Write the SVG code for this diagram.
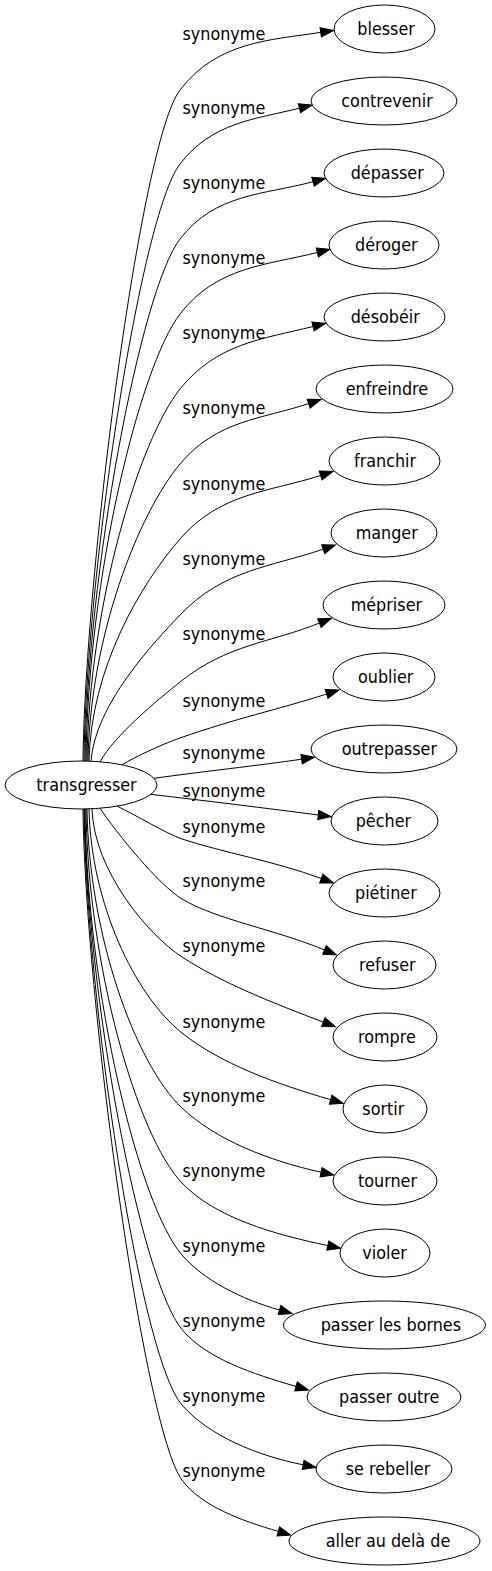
<svg xmlns="http://www.w3.org/2000/svg" width="492" height="1571" viewBox="0 0 492 1571">
<style>
text{font-family:"DejaVu Sans Condensed","DejaVu Sans",sans-serif;font-stretch:condensed;font-size:17.8px;fill:#000}
.n ellipse{fill:none;stroke:#000;stroke-width:1}
#edges path{fill:none;stroke:#000;stroke-width:1;marker-end:url(#ah)}
</style>
<defs>
<marker id="ah" markerUnits="userSpaceOnUse" markerWidth="14" markerHeight="10" viewBox="0 0 14 10" refX="0" refY="5" orient="auto" overflow="visible"><path d="M0,0.3 L13,5 L0,9.7 Z" fill="#000" stroke="#000" stroke-width="1"/></marker>
</defs>
<rect width="492" height="1571" fill="#fff"/>
<g id="edges">
<path d="M83,761 C85,576 140.3,141.5 180,90 C217.1,41.8 268.1,40.3 320.7,32.4"/>
<path d="M84,761 C86,576 140.3,215.5 180,164 C212.1,122.2 254.7,119.4 299.4,108.2"/>
<path d="M85,761 C87,576 140.3,290.5 180,239 C215.3,193.1 264.1,194.9 313,181.7"/>
<path d="M86,761 C88,576 140.3,365.5 180,314 C216.7,266.3 266.3,265.3 317.3,252.5"/>
<path d="M87,761 C89,604.8 139.4,439.8 180,389 C216.8,343.1 263,339 313,326.5"/>
<path d="M88,761 C90,636.3 138.4,513.9 180,464 C216.4,420.3 261.4,419.2 308.7,403.6"/>
<path d="M89,761 C91,667.8 140.7,584.2 180,539 C220.5,492.4 269.2,492 320.6,475.5"/>
<path d="M91,761.2 C95,705 152.8,643.5 180,615 C223.5,569.4 270.9,567 323.2,549.2"/>
<path d="M100,761.8 C115,735 156.6,700.8 180,682 C227.3,644.2 270.2,642.8 319.4,623.1"/>
<path d="M122,764.8 C135,757 161.1,744.6 180,738 C237.8,717.8 275.6,710.3 326.6,694"/>
<path d="M154,778.3 C199,772 262,765.1 301.6,759.2"/>
<path d="M151,794.4 C200,800 270.7,808.8 318.3,815"/>
<path d="M117,806.1 C135,814.5 166.8,834 182,839 C223.2,852.6 273.7,860.9 321.3,878.5"/>
<path d="M100,808.2 C116.5,833.1 158.9,885.1 182,899 C216.3,919.6 275.6,929.5 324.5,950"/>
<path d="M92,808.9 C94,871.1 148.5,935.2 182,957 C221.1,982.5 272.3,1002.8 323.3,1022.1"/>
<path d="M89,809 C91,903.1 134.7,995.2 182,1033 C220.2,1063.6 276,1083.8 330.7,1099.7"/>
<path d="M87,809 C89,934.6 134.9,1063.2 182,1108 C215.4,1139.7 268.7,1160.7 321.1,1172.2"/>
<path d="M86,809 C88,966.1 137.1,1135.9 182,1183 C214.8,1217.5 273.5,1234.2 327.8,1245.6"/>
<path d="M85,809 C87,994 139.4,1205.9 182,1255 C204,1280.4 241.7,1299.4 279.5,1310"/>
<path d="M84.5,809 C86.5,994 140.4,1279.6 182,1329.5 C206.4,1358.8 253.2,1374 296,1386.4"/>
<path d="M84,809 C86,994 139.4,1355.9 182,1405 C208.6,1435.6 256.7,1455.5 303.1,1464.8"/>
<path d="M83,809 C85,994 143.3,1427.7 182,1480 C201.5,1506.4 241.6,1520.7 278.3,1531.4"/>
<g id="edge-labels">
<text x="182.5" y="39.5">synonyme</text>
<text x="182.5" y="114">synonyme</text>
<text x="182.5" y="189">synonyme</text>
<text x="182.5" y="264">synonyme</text>
<text x="182.5" y="339">synonyme</text>
<text x="182.5" y="414">synonyme</text>
<text x="182.5" y="489.5">synonyme</text>
<text x="182.5" y="565">synonyme</text>
<text x="182.5" y="640">synonyme</text>
<text x="182.5" y="707">synonyme</text>
<text x="182.5" y="759">synonyme</text>
<text x="182.5" y="796.5">synonyme</text>
<text x="182.5" y="833">synonyme</text>
<text x="182.5" y="887">synonyme</text>
<text x="182.5" y="952">synonyme</text>
<text x="182.5" y="1027.5">synonyme</text>
<text x="182.5" y="1102">synonyme</text>
<text x="182.5" y="1177">synonyme</text>
<text x="182.5" y="1252">synonyme</text>
<text x="182.5" y="1326.5">synonyme</text>
<text x="182.5" y="1402">synonyme</text>
<text x="182.5" y="1477">synonyme</text>
</g>
</g>
<g id="n-transgresser" class="n"><ellipse cx="81" cy="785" rx="76" ry="24"/><text x="36.3" y="791">transgresser</text></g>
<g id="n-blesser" class="n"><ellipse cx="384.5" cy="29" rx="50.5" ry="24"/><text x="357.3" y="35">blesser</text></g>
<g id="n-contrevenir" class="n"><ellipse cx="384" cy="101" rx="73" ry="24"/><text x="341.3" y="107">contrevenir</text></g>
<g id="n-depasser" class="n"><ellipse cx="384" cy="173" rx="60" ry="24"/><text x="350.7" y="179">dépasser</text></g>
<g id="n-deroger" class="n"><ellipse cx="384" cy="245" rx="55" ry="24"/><text x="355" y="251">déroger</text></g>
<g id="n-desobeir" class="n"><ellipse cx="384.5" cy="317" rx="60.5" ry="24"/><text x="350.7" y="323">désobéir</text></g>
<g id="n-enfreindre" class="n"><ellipse cx="384.5" cy="389" rx="68.5" ry="24"/><text x="345.7" y="395">enfreindre</text></g>
<g id="n-franchir" class="n"><ellipse cx="384.5" cy="461" rx="55.5" ry="24"/><text x="354" y="467">franchir</text></g>
<g id="n-manger" class="n"><ellipse cx="384" cy="533" rx="53" ry="24"/><text x="355.7" y="539">manger</text></g>
<g id="n-mepriser" class="n"><ellipse cx="384" cy="605" rx="61" ry="24"/><text x="350.7" y="611">mépriser</text></g>
<g id="n-oublier" class="n"><ellipse cx="384" cy="677" rx="51" ry="24"/><text x="358" y="683">oublier</text></g>
<g id="n-outrepasser" class="n"><ellipse cx="384" cy="749" rx="73" ry="24"/><text x="341.7" y="755">outrepasser</text></g>
<g id="n-pecher" class="n"><ellipse cx="384.5" cy="821" rx="53.5" ry="24"/><text x="355.7" y="827">pêcher</text></g>
<g id="n-pietiner" class="n"><ellipse cx="384.5" cy="893" rx="55.5" ry="24"/><text x="355" y="899">piétiner</text></g>
<g id="n-refuser" class="n"><ellipse cx="384.5" cy="965" rx="51.5" ry="24"/><text x="359" y="971">refuser</text></g>
<g id="n-rompre" class="n"><ellipse cx="385" cy="1037" rx="52" ry="24"/><text x="358" y="1043">rompre</text></g>
<g id="n-sortir" class="n"><ellipse cx="385" cy="1109" rx="42" ry="24"/><text x="362.3" y="1115">sortir</text></g>
<g id="n-tourner" class="n"><ellipse cx="385" cy="1181" rx="52" ry="24"/><text x="358" y="1187">tourner</text></g>
<g id="n-violer" class="n"><ellipse cx="385" cy="1253" rx="45" ry="24"/><text x="362.3" y="1259">violer</text></g>
<g id="n-passer-les-bornes" class="n"><ellipse cx="384.5" cy="1325" rx="101" ry="24"/><text x="320.7" y="1331">passer les bornes</text></g>
<g id="n-passer-outre" class="n"><ellipse cx="384" cy="1397" rx="77" ry="24"/><text x="339" y="1403">passer outre</text></g>
<g id="n-se-rebeller" class="n"><ellipse cx="384" cy="1469" rx="68" ry="24"/><text x="345.7" y="1475">se rebeller</text></g>
<g id="n-aller-au-dela-de" class="n"><ellipse cx="384.5" cy="1541" rx="95.5" ry="24"/><text x="325.7" y="1547">aller au delà de</text></g>
</svg>
